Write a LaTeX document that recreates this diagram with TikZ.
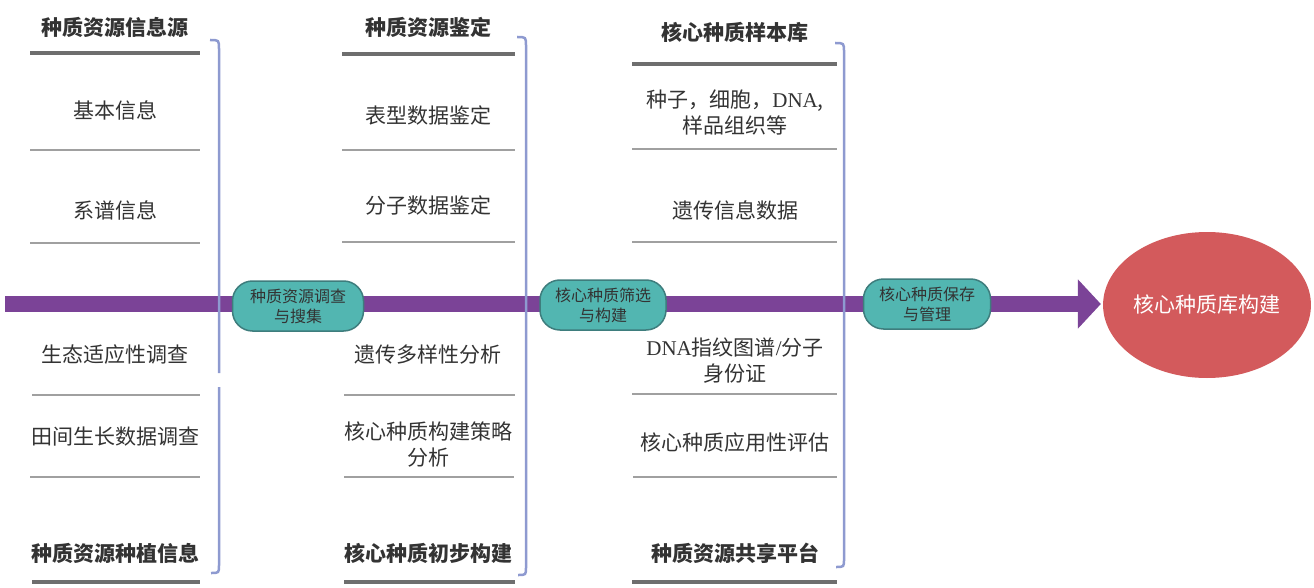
\documentclass[tikz,border=0pt]{standalone}
\usepackage{fontspec}
\setmainfont{Noto Sans CJK SC}
\newfontfamily\latf{Liberation Serif}
\usetikzlibrary{arrows.meta,shapes.geometric}
\definecolor{txt}{HTML}{333333}
\definecolor{heavyc}{HTML}{6E6E6E}
\definecolor{thinc}{HTML}{A0A0A0}
\definecolor{brk}{HTML}{8E9AD0}
\definecolor{barc}{HTML}{7B4397}
\definecolor{pillf}{HTML}{52B6B1}
\definecolor{pilld}{HTML}{3E7D7D}
\definecolor{ellc}{HTML}{D35A5C}
\begin{document}
\begin{tikzpicture}[x=1pt,y=-1pt,
  body/.style={font=\fontsize{21}{26}\selectfont, text=txt, align=center, inner sep=0pt},
  head/.style={font=\fontsize{21}{26}\selectfont\bfseries, text=txt, align=center, inner sep=0pt},
  heavyline/.style={draw=heavyc, line width=4pt},
  thinline/.style={draw=thinc, line width=2pt},
  bracketline/.style={draw=brk, line width=2.5pt},
  pill/.style={draw=pilld, fill=pillf, line width=1.5pt, rounded corners=20pt,
    minimum height=50pt, font=\fontsize{16}{20}\selectfont, text=txt, align=center, inner sep=0pt},
  mainbar/.style={draw=barc, line width=16pt, -{Triangle[length=23pt,width=48pt]}}
]
\useasboundingbox (0,0) rectangle (1314,588);

% ---------- main bar and goal ----------
\node[ellipse, fill=ellc, minimum width=204pt, minimum height=146pt, inner sep=0pt,
  font=\fontsize{21}{26}\selectfont, text=white] (goal) at (1207,305) {核心种质库构建};
\coordinate (start) at (5,304);
\draw[mainbar, shorten >=2pt] (start) -- (start -| goal.west);

% ---------- brackets ----------
\draw[bracketline] (210,40) .. controls (219,40) .. (219,49) -- (219,373);
\draw[bracketline] (219,387) -- (219,565) .. controls (219,573) .. (211,573);
\draw[bracketline] (517,37) .. controls (526,37) .. (526,46) -- (526,567) .. controls (526,575) .. (518,575);
\draw[bracketline] (835,43) .. controls (844,43) .. (844,52) -- (844,559) .. controls (844,567) .. (836,567);

% ---------- pills ----------
\node[pill, minimum width=131pt] (p1) at (298,306) {种质资源调查\\与搜集};
\node[pill, minimum width=126pt] (p2) at (603,305) {核心种质筛选\\与构建};
\node[pill, minimum width=127pt] (p3) at (927,304) {核心种质保存\\与管理};

% ---------- column 1 ----------
\node[head] (h1) at (115,27) {种质资源信息源};
\node[body] (a1) at (115,110) {基本信息};
\node[body] (a2) at (115,210) {系谱信息};
\node[body] (a3) at (115,355) {生态适应性调查};
\node[body] (a4) at (115,437) {田间生长数据调查};
\node[head] (h1b) at (115,553) {种质资源种植信息};
\draw[heavyline] (30,53) -- (200,53);
\draw[thinline] (30,150) -- (200,150);
\draw[thinline] (30,243) -- (200,243);
\draw[thinline] (32,395) -- (200,395);
\draw[thinline] (30,477) -- (200,477);
\draw[heavyline] (32,582) -- (200,582);

% ---------- column 2 ----------
\node[head] (h2) at (428,27) {种质资源鉴定};
\node[body] (b1) at (428,115) {表型数据鉴定};
\node[body] (b2) at (428,205) {分子数据鉴定};
\node[body] (b3) at (428,355) {遗传多样性分析};
\node[body] (b4) at (428,445) {核心种质构建策略\\分析};
\node[head] (h2b) at (428,553) {核心种质初步构建};
\draw[heavyline] (342,54) -- (515,54);
\draw[thinline] (342,150) -- (515,150);
\draw[thinline] (342,242) -- (515,242);
\draw[thinline] (344,395) -- (515,395);
\draw[thinline] (344,477) -- (514,477);
\draw[heavyline] (344,582) -- (515,582);

% ---------- column 3 ----------
\node[head] (h3) at (735,32) {核心种质样本库};
\node[body] (c1) at (735,112) {种子，细胞，{\latf DNA},\\样品组织等};
\node[body] (c2) at (735,210) {遗传信息数据};
\node[body] (c3) at (735,361) {{\latf DNA}指纹图谱{\latf /}分子\\身份证};
\node[body] (c4) at (735,443) {核心种质应用性评估};
\node[head] (h3b) at (735,553) {种质资源共享平台};
\draw[heavyline] (632,64) -- (837,64);
\draw[thinline] (632,149) -- (837,149);
\draw[thinline] (632,242) -- (837,242);
\draw[thinline] (632,394) -- (837,394);
\draw[thinline] (633,477) -- (837,477);
\draw[heavyline] (632,582) -- (837,582);
\end{tikzpicture}
\end{document}
